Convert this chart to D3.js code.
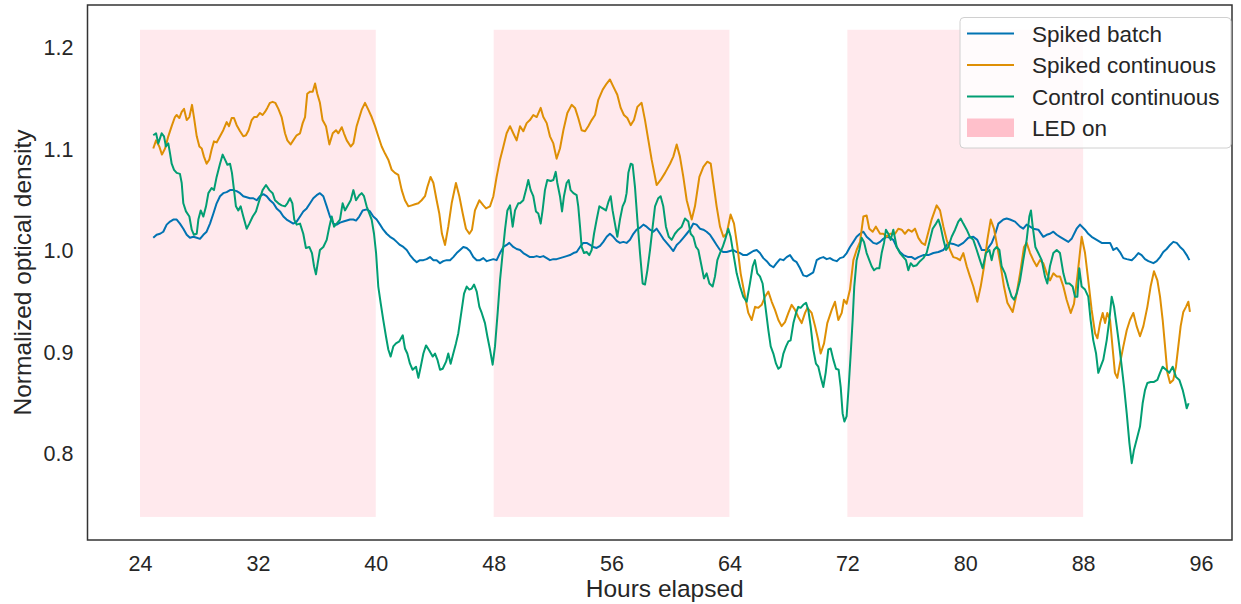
<!DOCTYPE html>
<html><head><meta charset="utf-8">
<script src="https://cdn.jsdelivr.net/npm/d3@7"></script>
<style>
body{margin:0;background:#fff}
svg{display:block}
text{font-family:"Liberation Sans",Arial,sans-serif;fill:#262626}
</style>
</head><body>
<svg id="chart" width="1241" height="604"></svg>
<script>
// ---- data ----
const xTicks = [24, 32, 40, 48, 56, 64, 72, 80, 88, 96];
const yTicks = [0.8, 0.9, 1.0, 1.1, 1.2];
const ledStarts = [24, 48, 72];
const ledEnds = [40, 64, 88];
const ledLow = 0.737, ledHigh = 1.217;
const seriesNames = ["Spiked batch", "Spiked continuous", "Control continuous"];
const seriesColors = ["#0173b2", "#de8f05", "#029e73"];
const ledLabel = "LED on";

const batchHours = [24.90,25.13,25.36,25.58,25.81,26.04,26.26,26.49,26.71,26.94,27.17,27.39,27.62,27.85,28.07,28.30,28.52,28.75,28.98,29.20,29.43,29.65,29.88,30.11,30.33,30.56,30.79,31.01,31.24,31.46,31.69,31.92,32.14,32.37,32.59,32.82,33.05,33.27,33.50,33.73,33.95,34.18,34.40,34.63,34.86,35.08,35.31,35.54,35.76,35.99,36.21,36.44,36.67,36.89,37.12,37.35,37.57,37.80,38.03,38.25,38.48,38.66,38.88,39.11,39.38,39.61,39.83,40.06,40.29,40.51,40.74,40.97,41.19,41.42,41.64,41.87,42.10,42.32,42.55,42.78,43.00,43.23,43.45,43.68,43.91,44.13,44.36,44.58,44.81,45.04,45.26,45.49,45.72,45.94,46.17,46.39,46.62,46.85,47.07,47.30,47.53,47.75,47.98,48.20,48.43,48.66,48.88,49.06,49.33,49.56,49.79,50.01,50.24,50.46,50.69,50.92,51.14,51.37,51.60,51.82,52.05,52.27,52.50,52.73,52.95,53.18,53.41,53.63,53.86,54.08,54.31,54.54,54.76,54.99,55.22,55.44,55.67,55.89,56.12,56.35,56.57,56.80,57.02,57.25,57.48,57.70,57.93,58.16,58.38,58.61,58.83,59.06,59.29,59.51,59.74,59.97,60.19,60.42,60.64,60.87,61.10,61.32,61.55,61.77,62.00,62.23,62.45,62.68,62.91,63.13,63.36,63.59,63.81,64.04,64.26,64.49,64.72,64.94,65.17,65.39,65.62,65.85,66.07,66.30,66.53,66.75,66.98,67.20,67.43,67.66,67.88,68.11,68.34,68.56,68.79,69.01,69.24,69.47,69.69,69.92,70.15,70.37,70.60,70.82,71.05,71.28,71.50,71.73,71.96,72.18,72.41,72.63,72.86,73.09,73.31,73.54,73.76,73.99,74.22,74.44,74.67,74.90,75.12,75.35,75.57,75.80,76.14,76.37,76.59,76.82,77.16,77.50,77.84,78.18,78.52,78.85,79.19,79.53,79.87,80.21,80.55,80.82,81.12,81.46,81.80,82.02,82.25,82.59,82.81,83.04,83.38,83.72,83.94,84.17,84.40,84.62,84.96,85.30,85.53,85.75,85.98,86.21,86.43,86.77,87.00,87.22,87.56,87.79,88.13,88.35,88.58,88.92,89.26,89.60,89.83,90.05,90.28,90.50,90.73,90.96,91.30,91.52,91.75,91.97,92.20,92.43,92.77,92.99,93.22,93.44,93.67,93.90,94.12,94.35,94.58,94.80,95.03,95.21];
const batchValues = [1.012,1.015,1.016,1.018,1.025,1.028,1.030,1.030,1.026,1.021,1.015,1.012,1.013,1.012,1.011,1.015,1.018,1.026,1.036,1.046,1.053,1.056,1.057,1.059,1.059,1.058,1.056,1.053,1.052,1.051,1.051,1.049,1.053,1.055,1.053,1.049,1.046,1.041,1.038,1.033,1.030,1.028,1.026,1.028,1.033,1.038,1.041,1.046,1.051,1.054,1.056,1.053,1.043,1.033,1.026,1.025,1.027,1.028,1.029,1.030,1.030,1.029,1.033,1.039,1.040,1.038,1.033,1.030,1.025,1.020,1.016,1.013,1.011,1.008,1.005,1.003,1.000,0.995,0.991,0.988,0.990,0.990,0.991,0.993,0.990,0.990,0.987,0.989,0.990,0.990,0.993,0.997,1.000,1.003,1.002,0.999,0.993,0.990,0.990,0.992,0.989,0.990,0.991,0.990,0.997,1.003,1.005,1.007,1.003,1.001,1.000,0.997,0.995,0.993,0.993,0.994,0.993,0.994,0.992,0.990,0.991,0.991,0.992,0.993,0.994,0.995,0.997,0.998,1.003,1.007,1.007,1.005,1.003,1.002,1.004,1.008,1.013,1.016,1.013,1.009,1.007,1.008,1.007,1.010,1.016,1.020,1.022,1.025,1.023,1.020,1.018,1.021,1.016,1.011,1.007,1.003,0.999,1.005,1.008,1.012,1.016,1.020,1.026,1.025,1.021,1.020,1.018,1.015,1.010,1.005,1.000,0.998,0.998,0.999,1.000,0.998,0.997,0.995,0.995,0.997,0.999,1.000,0.997,0.992,0.989,0.985,0.983,0.987,0.991,0.990,0.993,0.995,0.990,0.988,0.982,0.975,0.974,0.976,0.978,0.990,0.992,0.993,0.991,0.992,0.990,0.989,0.992,0.993,0.997,1.003,1.008,1.013,1.016,1.018,1.013,1.010,1.007,1.006,1.008,1.011,1.013,1.012,1.010,1.003,0.998,0.995,0.993,0.993,0.991,0.993,0.995,0.995,0.997,0.998,1.000,1.007,1.006,1.004,1.007,1.012,1.013,1.010,1.000,1.000,1.007,1.015,1.026,1.030,1.031,1.030,1.028,1.023,1.021,1.025,1.023,1.021,1.020,1.013,1.015,1.016,1.018,1.015,1.013,1.010,1.008,1.011,1.021,1.025,1.020,1.016,1.013,1.010,1.007,1.007,1.007,1.000,1.002,0.998,0.992,0.991,0.990,0.993,0.997,0.995,0.991,0.989,0.987,0.989,0.993,0.998,1.001,1.005,1.008,1.007,1.003,1.000,0.995,0.990];

const spikedHours = [24.90,25.09,25.31,25.49,25.70,25.92,26.15,26.37,26.49,26.67,26.83,26.99,27.17,27.35,27.53,27.66,27.85,28.03,28.19,28.34,28.52,28.70,28.86,29.02,29.20,29.43,29.65,29.88,30.04,30.22,30.38,30.56,30.79,31.01,31.19,31.37,31.58,31.74,31.92,32.14,32.32,32.48,32.64,32.82,33.00,33.18,33.39,33.61,33.84,34.00,34.22,34.40,34.63,34.86,35.04,35.20,35.35,35.54,35.72,35.88,36.03,36.21,36.39,36.62,36.85,37.08,37.30,37.46,37.69,37.84,38.03,38.30,38.48,38.70,39.04,39.27,39.50,39.72,39.95,40.17,40.40,40.63,40.85,41.08,41.30,41.53,41.76,41.98,42.21,42.44,42.66,42.89,43.11,43.34,43.50,43.72,43.91,44.13,44.31,44.49,44.70,44.92,45.15,45.44,45.67,45.90,46.12,46.35,46.53,46.73,47.03,47.30,47.48,47.75,47.98,48.20,48.43,48.66,48.88,49.11,49.33,49.56,49.79,50.01,50.24,50.46,50.69,50.92,51.19,51.37,51.60,51.82,52.05,52.27,52.50,52.73,53.00,53.29,53.52,53.74,53.97,54.20,54.42,54.65,54.88,55.10,55.40,55.67,55.89,56.12,56.39,56.62,56.84,57.07,57.30,57.52,57.75,58.04,58.27,58.50,58.72,59.06,59.33,59.63,59.97,60.19,60.42,60.64,60.87,61.10,61.44,61.66,61.96,62.23,62.50,62.73,62.91,63.13,63.36,63.59,63.81,64.08,64.31,64.54,64.76,65.06,65.28,65.51,65.74,65.96,66.19,66.41,66.64,66.87,67.09,67.32,67.54,67.77,68.00,68.22,68.45,68.67,68.90,69.13,69.29,69.58,69.81,70.03,70.19,70.42,70.64,70.94,71.16,71.39,71.62,71.77,71.95,72.18,72.41,72.63,72.86,73.09,73.31,73.49,73.72,73.94,74.22,74.44,74.67,74.90,75.24,75.46,75.69,75.91,76.14,76.37,76.59,76.82,77.05,77.27,77.72,78.06,78.29,78.52,78.74,78.97,79.19,79.42,79.65,79.87,80.10,80.32,80.55,80.82,81.05,81.28,81.50,81.73,81.95,82.18,82.41,82.63,82.86,83.22,83.45,83.72,83.99,84.17,84.40,84.62,84.85,85.07,85.30,85.53,85.75,85.98,86.21,86.43,86.66,86.88,87.16,87.38,87.61,87.90,88.13,88.35,88.58,88.81,88.97,89.15,89.33,89.49,89.64,89.83,90.01,90.16,90.32,90.50,90.73,90.96,91.18,91.41,91.63,91.86,92.09,92.36,92.58,92.81,93.04,93.22,93.40,93.56,93.72,93.90,94.12,94.30,94.46,94.62,94.80,94.98,95.14,95.25];
const spikedValues = [1.100,1.108,1.102,1.094,1.100,1.112,1.122,1.131,1.133,1.130,1.136,1.139,1.128,1.131,1.143,1.131,1.112,1.102,1.100,1.092,1.085,1.089,1.099,1.107,1.106,1.112,1.118,1.126,1.122,1.130,1.130,1.123,1.117,1.112,1.113,1.118,1.128,1.131,1.131,1.135,1.133,1.136,1.140,1.145,1.146,1.145,1.139,1.131,1.115,1.108,1.104,1.108,1.113,1.115,1.125,1.131,1.154,1.156,1.156,1.164,1.154,1.145,1.128,1.122,1.104,1.115,1.118,1.115,1.121,1.115,1.108,1.102,1.105,1.122,1.138,1.145,1.138,1.131,1.122,1.112,1.102,1.095,1.089,1.079,1.076,1.074,1.059,1.049,1.043,1.044,1.045,1.046,1.049,1.053,1.062,1.072,1.066,1.049,1.036,1.016,1.005,1.023,1.046,1.066,1.053,1.036,1.021,1.016,1.020,1.039,1.049,1.044,1.041,1.043,1.053,1.072,1.089,1.102,1.115,1.122,1.115,1.108,1.122,1.117,1.125,1.128,1.133,1.131,1.140,1.131,1.125,1.112,1.105,1.090,1.100,1.118,1.135,1.143,1.140,1.130,1.118,1.117,1.122,1.128,1.133,1.148,1.158,1.164,1.168,1.161,1.153,1.140,1.133,1.130,1.123,1.128,1.141,1.145,1.128,1.108,1.089,1.064,1.069,1.076,1.085,1.092,1.104,1.092,1.072,1.049,1.030,1.043,1.072,1.082,1.087,1.085,1.066,1.043,1.023,1.013,1.016,1.035,1.026,1.003,0.977,0.954,0.938,0.931,0.944,0.943,0.946,0.954,0.959,0.949,0.941,0.931,0.925,0.929,0.938,0.946,0.941,0.934,0.928,0.938,0.943,0.938,0.925,0.911,0.898,0.908,0.928,0.941,0.949,0.931,0.938,0.951,0.947,0.961,0.990,1.000,1.008,1.033,1.034,1.021,1.018,1.023,1.016,1.016,1.013,1.016,1.016,1.021,1.020,1.016,1.020,1.018,1.021,1.012,1.007,1.005,1.030,1.044,1.039,1.023,1.010,1.000,0.993,0.992,0.990,0.997,0.984,0.974,0.964,0.949,0.964,0.984,1.010,1.030,1.021,1.003,0.984,0.964,0.948,0.939,0.954,0.977,1.003,1.007,0.997,0.990,0.984,0.990,0.987,0.977,0.970,0.977,0.974,0.974,0.964,0.951,0.938,0.947,0.974,1.013,0.997,0.970,0.941,0.918,0.913,0.928,0.938,0.928,0.938,0.931,0.902,0.879,0.874,0.888,0.905,0.921,0.931,0.938,0.925,0.915,0.925,0.944,0.964,0.979,0.970,0.954,0.931,0.905,0.879,0.869,0.872,0.885,0.905,0.925,0.939,0.944,0.949,0.939];

const controlHours = [24.90,25.09,25.24,25.47,25.63,25.76,25.92,26.04,26.15,26.31,26.49,26.71,26.83,26.94,27.12,27.35,27.51,27.66,27.85,27.96,28.12,28.30,28.48,28.64,28.86,29.02,29.20,29.43,29.61,29.77,29.93,30.11,30.24,30.38,30.51,30.67,30.83,31.01,31.24,31.42,31.65,31.87,32.10,32.32,32.55,32.78,33.00,33.16,33.39,33.61,33.84,34.00,34.18,34.34,34.47,34.63,34.86,35.08,35.26,35.49,35.67,35.81,35.94,36.06,36.21,36.44,36.67,36.85,37.01,37.17,37.35,37.57,37.75,37.91,38.07,38.30,38.48,38.66,38.88,39.04,39.20,39.38,39.56,39.72,39.88,40.02,40.17,40.33,40.51,40.69,40.85,41.01,41.19,41.37,41.60,41.83,41.98,42.14,42.32,42.50,42.73,42.89,43.05,43.23,43.41,43.63,43.86,44.02,44.18,44.36,44.54,44.77,44.92,45.08,45.26,45.44,45.60,45.83,45.99,46.17,46.35,46.51,46.67,46.85,47.03,47.19,47.41,47.57,47.75,47.93,48.09,48.27,48.43,48.61,48.77,48.93,49.11,49.29,49.45,49.67,49.79,50.01,50.19,50.35,50.51,50.69,50.87,51.03,51.19,51.32,51.48,51.64,51.87,52.05,52.21,52.32,52.50,52.64,52.77,52.95,53.09,53.22,53.41,53.63,53.74,53.86,53.97,54.13,54.31,54.49,54.65,54.81,54.99,55.17,55.40,55.62,55.80,55.94,56.07,56.23,56.39,56.57,56.75,56.91,57.02,57.14,57.30,57.43,57.59,57.75,57.93,58.11,58.27,58.43,58.61,58.79,58.95,59.17,59.33,59.51,59.69,59.88,60.08,60.30,60.53,60.76,60.98,61.21,61.37,61.55,61.73,61.89,62.11,62.27,62.45,62.64,62.86,63.02,63.18,63.36,63.54,63.70,63.92,64.08,64.26,64.49,64.72,64.94,65.17,65.39,65.58,65.73,65.89,66.07,66.25,66.41,66.64,66.80,66.98,67.16,67.32,67.48,67.66,67.84,68.00,68.15,68.34,68.52,68.67,68.83,69.01,69.20,69.35,69.51,69.69,69.87,70.03,70.19,70.37,70.53,70.71,70.87,71.05,71.23,71.41,71.55,71.68,71.80,71.95,72.09,72.23,72.36,72.47,72.63,72.81,72.97,73.13,73.31,73.49,73.65,73.81,73.99,74.17,74.33,74.49,74.62,74.78,74.94,75.12,75.35,75.57,75.80,75.98,76.14,76.30,76.48,76.71,76.93,77.16,77.38,77.57,77.79,78.02,78.18,78.33,78.52,78.70,78.85,79.08,79.31,79.53,79.69,79.87,80.10,80.32,80.55,80.78,81.00,81.18,81.41,81.64,81.79,81.95,82.13,82.32,82.47,82.70,82.93,83.15,83.31,83.49,83.72,83.94,84.17,84.35,84.46,84.58,84.76,84.96,85.19,85.41,85.57,85.75,85.98,86.21,86.43,86.66,86.84,87.07,87.29,87.45,87.61,87.74,87.90,88.13,88.35,88.51,88.69,88.88,89.03,89.19,89.37,89.60,89.78,89.94,90.10,90.28,90.46,90.62,90.78,90.96,91.14,91.30,91.45,91.63,91.86,92.04,92.20,92.36,92.58,92.81,93.04,93.22,93.40,93.63,93.85,94.08,94.30,94.53,94.76,94.92,95.03,95.16];
const controlValues = [1.113,1.115,1.105,1.115,1.112,1.102,1.105,1.095,1.085,1.079,1.076,1.075,1.066,1.046,1.038,1.033,1.020,1.015,1.016,1.030,1.039,1.033,1.043,1.056,1.061,1.059,1.072,1.085,1.094,1.089,1.084,1.085,1.076,1.059,1.043,1.039,1.043,1.033,1.021,1.026,1.033,1.038,1.049,1.059,1.064,1.059,1.056,1.049,1.046,1.044,1.043,1.046,1.051,1.046,1.030,1.025,1.026,1.016,1.002,1.003,0.997,0.984,0.976,0.987,1.000,1.003,1.010,1.023,1.033,1.023,1.026,1.030,1.046,1.039,1.043,1.049,1.059,1.049,1.054,1.056,1.053,1.043,1.036,1.030,1.016,0.997,0.964,0.948,0.931,0.915,0.902,0.895,0.905,0.908,0.910,0.916,0.903,0.898,0.888,0.882,0.885,0.874,0.885,0.898,0.906,0.901,0.895,0.898,0.892,0.882,0.883,0.890,0.898,0.888,0.898,0.908,0.918,0.941,0.957,0.964,0.961,0.962,0.966,0.959,0.944,0.938,0.928,0.915,0.902,0.887,0.905,0.938,0.970,0.997,1.020,1.039,1.044,1.023,1.039,1.046,1.046,1.049,1.059,1.069,1.059,1.053,1.038,1.036,1.026,1.039,1.059,1.069,1.068,1.069,1.077,1.066,1.053,1.038,1.053,1.066,1.069,1.059,1.056,1.054,1.043,1.023,1.003,0.997,0.998,0.995,1.000,1.016,1.030,1.043,1.041,1.039,1.048,1.053,1.039,1.026,1.013,1.030,1.043,1.048,1.056,1.076,1.085,1.084,1.062,1.030,0.997,0.967,0.966,0.980,1.000,1.023,1.043,1.051,1.053,1.043,1.023,1.013,1.010,1.016,1.020,1.023,1.031,1.028,1.016,1.013,1.003,1.000,0.984,0.972,0.977,0.967,0.964,0.974,0.990,0.997,1.003,1.010,1.021,1.013,0.997,0.977,0.964,0.954,0.949,0.967,0.984,0.990,0.977,0.974,0.967,0.948,0.921,0.905,0.898,0.888,0.883,0.885,0.898,0.905,0.910,0.911,0.928,0.938,0.944,0.943,0.946,0.948,0.941,0.925,0.902,0.888,0.885,0.875,0.865,0.879,0.902,0.903,0.892,0.883,0.882,0.865,0.839,0.831,0.836,0.865,0.898,0.931,0.964,0.990,1.000,1.012,1.008,0.997,0.990,0.984,0.980,0.982,0.982,0.997,1.007,1.020,1.016,1.010,1.020,1.003,0.997,0.993,0.990,0.980,0.987,0.984,0.985,0.989,0.992,0.997,1.008,1.021,1.026,1.030,1.023,1.010,1.000,1.003,1.013,1.020,1.028,1.031,1.026,1.020,1.013,1.010,1.000,0.990,0.982,0.997,1.000,0.990,1.000,1.003,1.000,0.984,0.977,0.964,0.954,0.951,0.957,0.970,0.990,1.010,1.033,1.039,1.023,1.003,0.997,0.990,0.974,0.967,0.984,0.997,1.000,0.997,0.977,0.967,0.967,0.964,0.954,0.954,0.982,0.964,0.961,0.954,0.931,0.911,0.898,0.879,0.885,0.892,0.911,0.931,0.954,0.944,0.925,0.905,0.885,0.865,0.839,0.810,0.790,0.803,0.813,0.826,0.849,0.862,0.869,0.870,0.870,0.872,0.879,0.885,0.882,0.879,0.885,0.875,0.872,0.862,0.852,0.844,0.849];

// ---- layout ----
const frame = {left: 87.5, right: 1232, top: 5, bottom: 540};
const svg = d3.select("#chart");
const x = d3.scaleLinear().domain([24, 96]).range([140, 1201]);
const y = d3.scaleLinear().domain([0.8, 1.2]).range([453, 47]);

// LED bands
svg.append("g").selectAll("rect").data(ledStarts).join("rect")
  .attr("x", (d) => x(d))
  .attr("width", (d, i) => x(ledEnds[i]) - x(d))
  .attr("y", y(ledHigh))
  .attr("height", y(ledLow) - y(ledHigh))
  .attr("fill", "#ffc0cb").attr("fill-opacity", 0.35);

// lines
const series = [
  {h: batchHours, v: batchValues},
  {h: spikedHours, v: spikedValues},
  {h: controlHours, v: controlValues}
];
const line = d3.line().x((d) => x(d[0])).y((d) => y(d[1]));
series.forEach((s, i) => {
  svg.append("path")
    .datum(s.h.map((h, j) => [h, s.v[j]]))
    .attr("d", line)
    .attr("fill", "none")
    .attr("stroke", seriesColors[i])
    .attr("stroke-width", 2)
    .attr("stroke-linejoin", "round");
});

// frame
svg.append("rect")
  .attr("x", frame.left).attr("y", frame.top)
  .attr("width", frame.right - frame.left).attr("height", frame.bottom - frame.top)
  .attr("fill", "none").attr("stroke", "#333").attr("stroke-width", 1.5);

// axes (no tick marks, labels only)
const xAxis = d3.axisBottom(x).tickValues(xTicks).tickSize(0).tickPadding(0).tickFormat(d3.format("d"));
const gx = svg.append("g").attr("transform", `translate(0,${frame.bottom})`).call(xAxis);
gx.select(".domain").remove();
gx.selectAll("text").attr("dy", null).attr("y", 31).attr("font-size", 21.5)
  .style("font-family", '"Liberation Sans",Arial,sans-serif').attr("fill", "#262626");

const yAxis = d3.axisLeft(y).tickValues(yTicks).tickSize(0).tickPadding(0).tickFormat(d3.format(".1f"));
const gy = svg.append("g").attr("transform", `translate(${frame.left},0)`).call(yAxis);
gy.select(".domain").remove();
gy.selectAll("text").attr("x", -14).attr("dy", "0.35em").attr("font-size", 21.5)
  .style("font-family", '"Liberation Sans",Arial,sans-serif').attr("fill", "#262626");

svg.append("text").attr("x", (frame.left + frame.right) / 2 + 5).attr("y", 597)
  .attr("text-anchor", "middle").attr("font-size", 24.5).text("Hours elapsed");
svg.append("text").attr("transform", `translate(31,${(frame.top + frame.bottom) / 2}) rotate(-90)`)
  .attr("text-anchor", "middle").attr("font-size", 24.5).text("Normalized optical density");

// legend
const lg = svg.append("g");
lg.append("rect").attr("x", 960).attr("y", 17.5).attr("width", 271).attr("height", 130.5)
  .attr("rx", 4).attr("fill", "#fff").attr("fill-opacity", 0.8)
  .attr("stroke", "#d0d0d0").attr("stroke-width", 1);
const rowY = [34, 65.5, 97, 128];
seriesNames.forEach((name, i) => {
  lg.append("line").attr("x1", 967).attr("x2", 1014).attr("y1", rowY[i] - 0.5).attr("y2", rowY[i] - 0.5)
    .attr("stroke", seriesColors[i]).attr("stroke-width", 2);
  lg.append("text").attr("x", 1032).attr("y", rowY[i]).attr("dy", "0.35em")
    .attr("font-size", 22.5).text(name);
});
lg.append("rect").attr("x", 967).attr("y", 118.5).attr("width", 47).attr("height", 18.5)
  .attr("fill", "#ffc0cb");
lg.append("text").attr("x", 1032).attr("y", rowY[3]).attr("dy", "0.35em")
  .attr("font-size", 22.5).text(ledLabel);
</script>
</body></html>
